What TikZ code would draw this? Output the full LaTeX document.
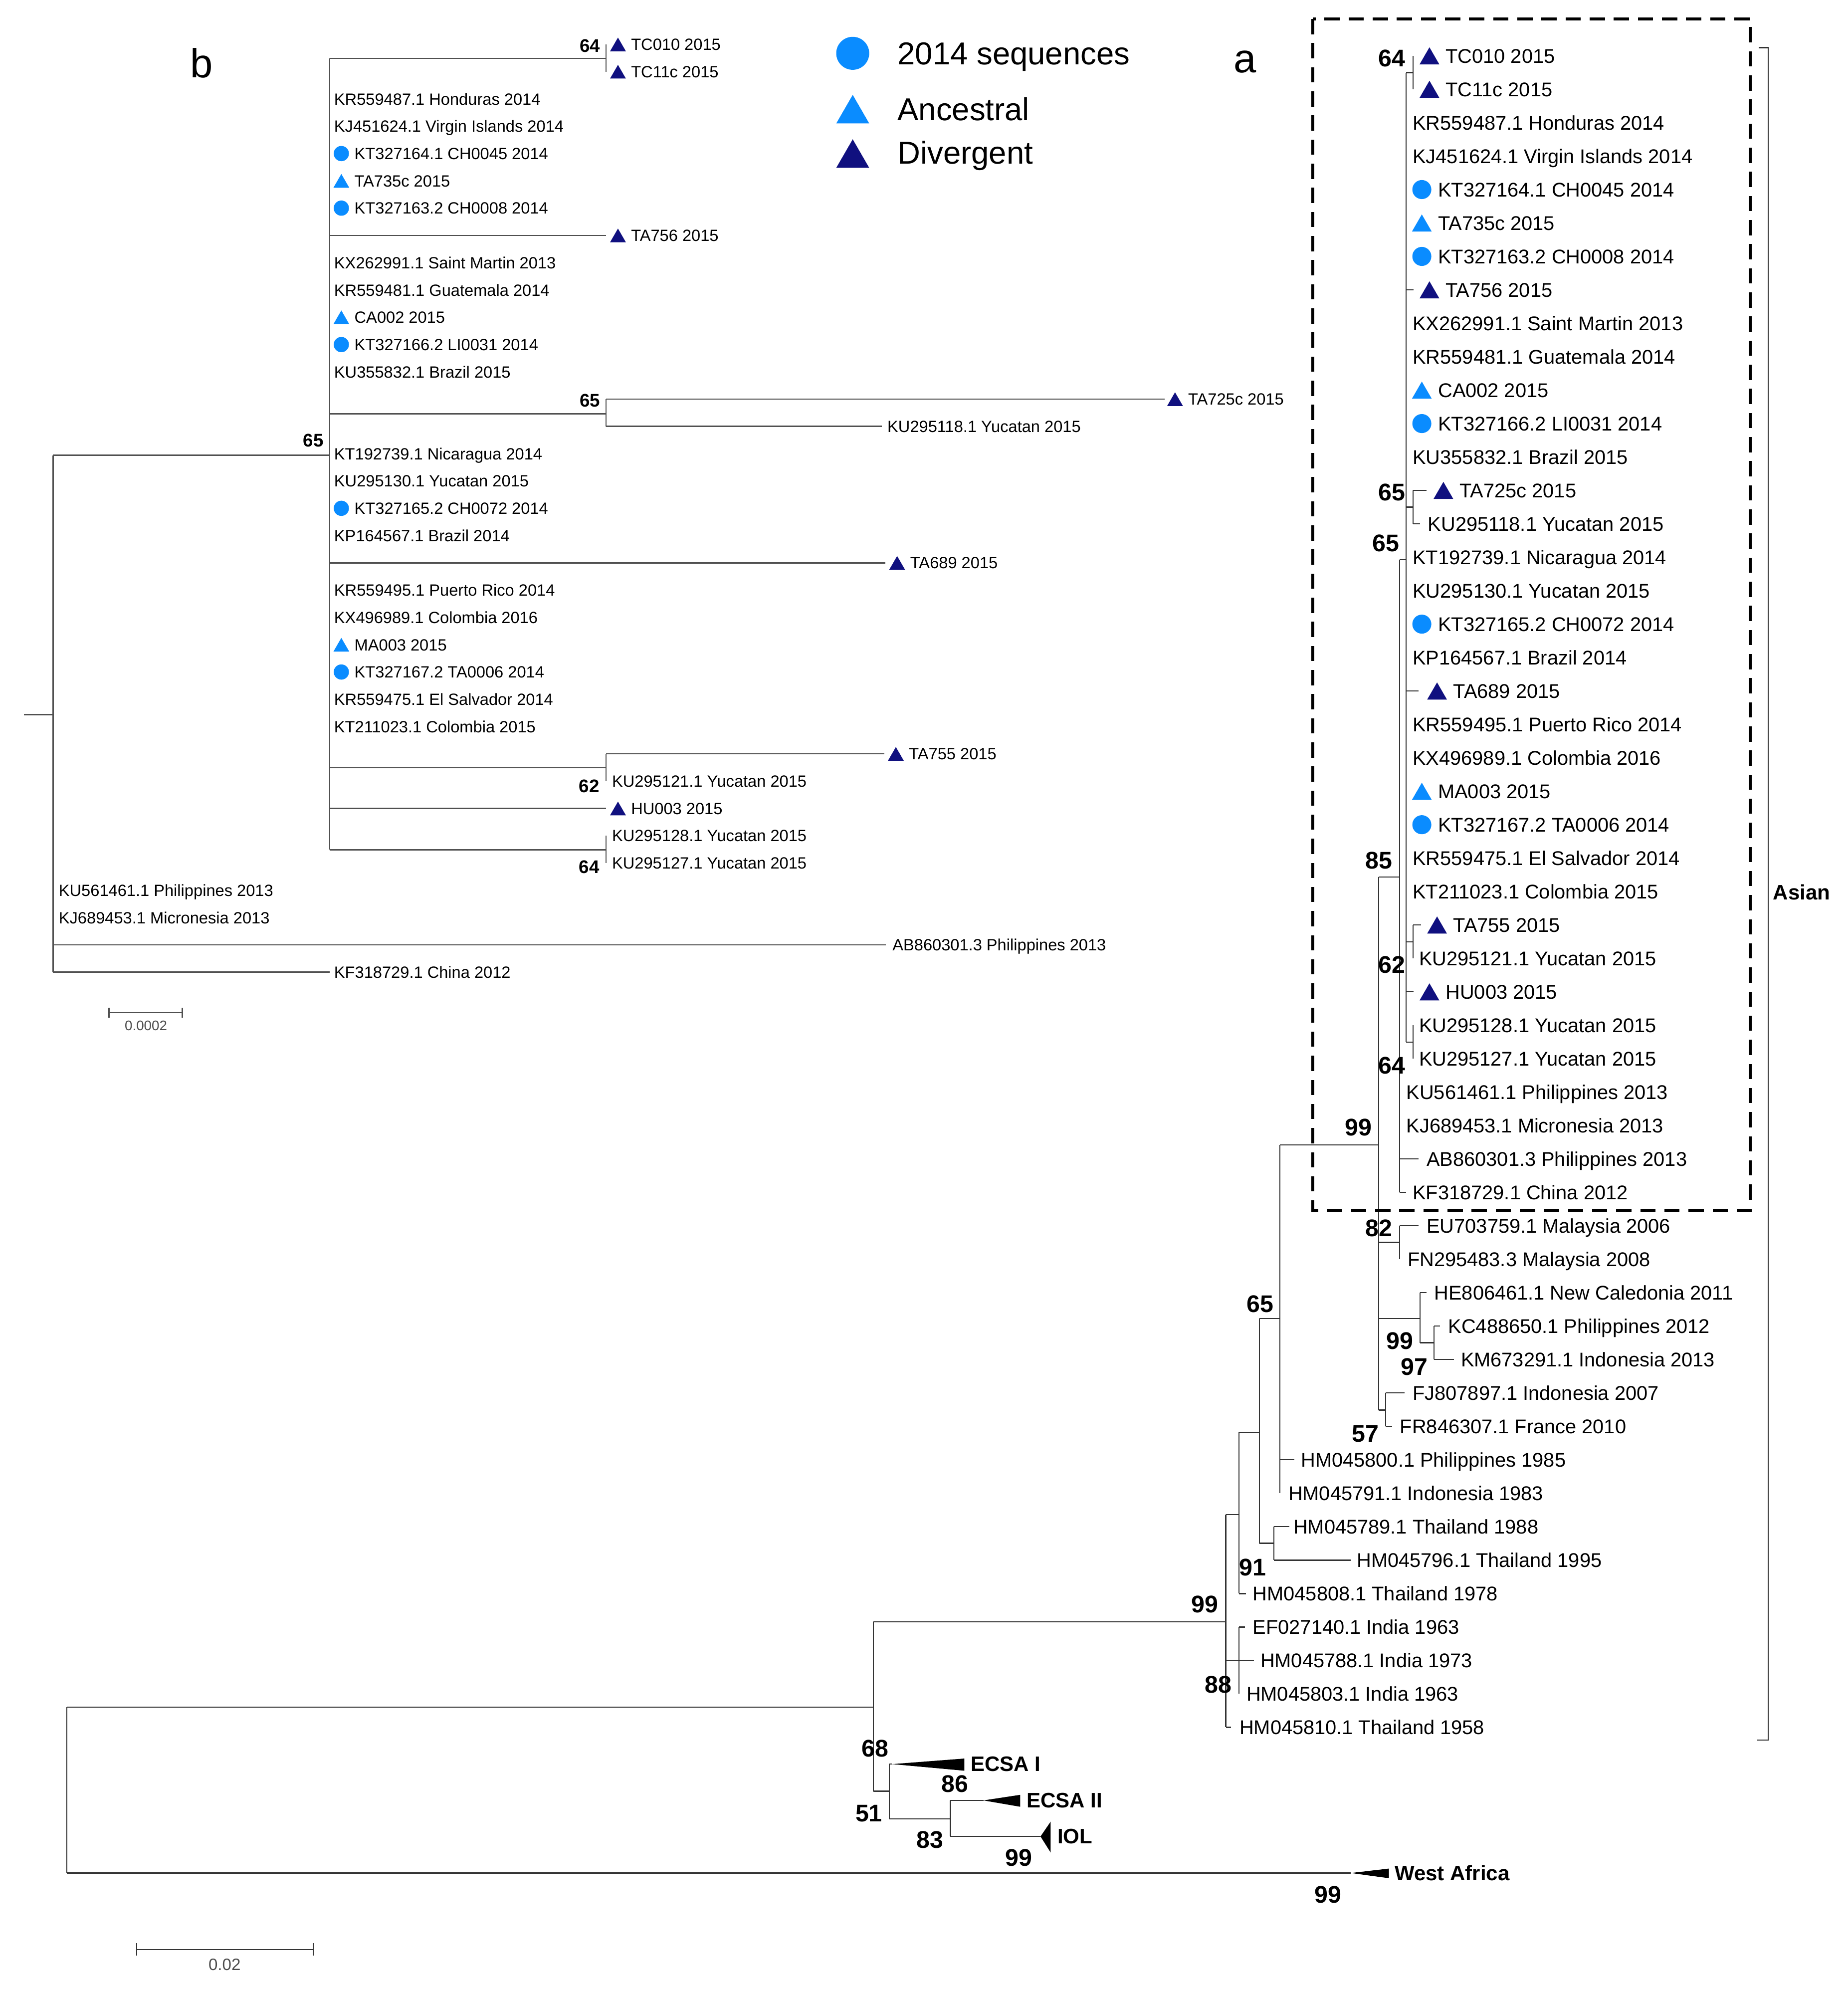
\documentclass[tikz,border=0pt]{standalone}
\usepackage{fontspec}
\setmainfont{Liberation Sans}
\usetikzlibrary{shapes.geometric, calc}
\definecolor{SeqBlue}{HTML}{0A8CFF}
\definecolor{DivNavy}{HTML}{10107F}
\definecolor{TreeGray}{HTML}{333333}
\definecolor{InsetGray}{HTML}{505050}
\tikzset{
    branch/.style={
        draw=TreeGray,
        line width=0.5pt
    },
    insetbranch/.style={
        draw=InsetGray,
        line width=0.6pt
    },
    leafa/.style={
        anchor=base west,
        inner sep=0pt,
        font=\fontsize{8.9}{10}\selectfont
    },
    leafb/.style={
        anchor=base west,
        inner sep=0pt,
        font=\fontsize{7.3}{8}\selectfont
    },
    boota/.style={
        inner sep=0pt,
        font=\fontsize{10.8}{12}\selectfont\bfseries
    },
    bootb/.style={
        inner sep=0pt,
        font=\fontsize{8.2}{9}\selectfont\bfseries
    },
    clade/.style={
        anchor=west,
        inner sep=0pt,
        font=\fontsize{9.4}{11}\selectfont\bfseries
    },
    keytext/.style={
        anchor=base west,
        inner sep=0pt,
        font=\fontsize{14.2}{16}\selectfont
    },
    panel/.style={
        anchor=base,
        inner sep=0pt,
        font=\fontsize{18.2}{20}\selectfont
    },
    scalelabel/.style={
        inner sep=0pt,
        text=black!70,
        font=\fontsize{#1}{#1}\selectfont
    },
    seqdot/.style={
        circle,
        fill=SeqBlue,
        inner sep=0pt,
        minimum size=#1
    },
    trimark/.style={
        regular polygon,
        regular polygon sides=3,
        inner sep=0pt,
        minimum size=1.2*#1,
        yshift=-0.15*#1
    },
    ancmark/.style={trimark=#1, fill=SeqBlue},
    divmark/.style={trimark=#1, fill=DivNavy},
    collapsed/.style={fill=black},
    dashbox/.style={
        draw=black,
        line width=1.4pt,
        dash pattern=on 0.24cm off 0.14cm
    }
}

\begin{document}
\begin{tikzpicture}[x=0.02cm, y=-0.02cm]
    \useasboundingbox (0,0) rectangle (1456,1568);

    % Panel letters and legend
    \node[panel] (pb) at (159,61) {b};
    \node[panel] (pa) at (981,57) {a};
    \node[seqdot=0.52cm] (key1) at (672,42) {};
    \node[ancmark=0.5cm] (key2) at (672,86) {};
    \node[divmark=0.5cm] (key3) at (672,121) {};
    \node[keytext] (key1t) at (707,51) {2014 sequences};
    \node[keytext] (key2t) at (707,95) {Ancestral};
    \node[keytext] (key3t) at (707,129) {Divergent};

    % Tree a: leaves
    \foreach \row/\px/\bx/\tx/\txt in {
        1/1113.5/1113.5/1139/TC010 2015,
        2/1113.5/1113.5/1139/TC11c 2015,
        3/1108/1108/1113/KR559487.1 Honduras 2014,
        4/1108/1108/1113/KJ451624.1 Virgin Islands 2014,
        5/1108/1108/1133/KT327164.1 CH0045 2014,
        6/1108/1108/1133/TA735c 2015,
        7/1108/1108/1133/KT327163.2 CH0008 2014,
        8/1108/1114/1139/TA756 2015,
        9/1108/1108/1113/KX262991.1 Saint Martin 2013,
        10/1108/1108/1113/KR559481.1 Guatemala 2014,
        11/1108/1108/1133/CA002 2015,
        12/1108/1108/1133/KT327166.2 LI0031 2014,
        13/1108/1108/1113/KU355832.1 Brazil 2015,
        14/1113.5/1124/1150/TA725c 2015,
        15/1113.5/1119/1125/KU295118.1 Yucatan 2015,
        16/1108/1108/1113/KT192739.1 Nicaragua 2014,
        17/1108/1108/1113/KU295130.1 Yucatan 2015,
        18/1108/1108/1133/KT327165.2 CH0072 2014,
        19/1108/1108/1113/KP164567.1 Brazil 2014,
        20/1108/1118/1145/TA689 2015,
        21/1108/1108/1113/KR559495.1 Puerto Rico 2014,
        22/1108/1108/1113/KX496989.1 Colombia 2016,
        23/1108/1108/1133/MA003 2015,
        24/1108/1108/1133/KT327167.2 TA0006 2014,
        25/1108/1108/1113/KR559475.1 El Salvador 2014,
        26/1108/1108/1113/KT211023.1 Colombia 2015,
        27/1113.5/1120/1145/TA755 2015,
        28/1113.5/1113.5/1118/KU295121.1 Yucatan 2015,
        29/1108/1114/1139/HU003 2015,
        30/1113.5/1113.5/1118/KU295128.1 Yucatan 2015,
        31/1113.5/1113.5/1118/KU295127.1 Yucatan 2015,
        32/1103/1103/1108/KU561461.1 Philippines 2013,
        33/1103/1103/1108/KJ689453.1 Micronesia 2013,
        34/1103/1118/1124/AB860301.3 Philippines 2013,
        35/1103/1108/1113/KF318729.1 China 2012,
        36/1103/1118/1124/EU703759.1 Malaysia 2006,
        37/1103/1103/1109/FN295483.3 Malaysia 2008,
        38/1119/1124/1130/HE806461.1 New Caledonia 2011,
        39/1130/1135/1141/KC488650.1 Philippines 2012,
        40/1130/1146/1151/KM673291.1 Indonesia 2013,
        41/1092/1107/1113/FJ807897.1 Indonesia 2007,
        42/1092/1097/1103/FR846307.1 France 2010,
        43/1008.5/1020/1025/HM045800.1 Philippines 1985,
        44/1008.5/1008.5/1015/HM045791.1 Indonesia 1983,
        45/1004/1016/1019/HM045789.1 Thailand 1988,
        46/1004/1064.5/1069/HM045796.1 Thailand 1995,
        47/976.5/982/987/HM045808.1 Thailand 1978,
        48/976.5/981/987/EF027140.1 India 1963,
        49/976.5/988/993/HM045788.1 India 1973,
        50/976.5/976.5/982/HM045803.1 India 1963,
        51/966/970/976.5/HM045810.1 Thailand 1958
    }{
        \pgfmathsetmacro{\yy}{44+26.34*(\row-1)}
        \coordinate (ra\row) at (\px,\yy);
        \coordinate (ta\row) at (\bx,\yy);
        \draw[branch] (ra\row) -- (ta\row);
        \node[leafa] (la\row) at (\tx,\yy+5.6) {\txt};
    }

    % Tree a: markers
    \foreach \row in {5,7,12,18,24}
        \node[seqdot=0.3cm] (ma\row) at ($(la\row.west |- ra\row)+(-12.5,0)$) {};
    \foreach \row in {6,11,23}
        \node[ancmark=0.3cm] (ma\row) at ($(la\row.west |- ra\row)+(-12.5,0)$) {};
    \foreach \row in {1,2,8,14,20,27,29}
        \node[divmark=0.3cm] (ma\row) at ($(la\row.west |- ra\row)+(-12.5,0)$) {};

    % Tree a: internal nodes
    \coordinate (a64t) at (1113.5,57.2);
    \coordinate (a65t) at (1113.5,399.6);
    \coordinate (a62) at (1113.5,742);
    \coordinate (a64b) at (1113.5,821);
    \coordinate (a65p) at (1108,441);
    \coordinate (a85) at (1103,691);
    \coordinate (a82) at (1103,979);
    \coordinate (a99c) at (1119,1039);
    \coordinate (a97) at (1130,1058);
    \coordinate (a57) at (1092,1111);
    \coordinate (a99) at (1086.5,902);
    \coordinate (a65c) at (1008.5,1039);
    \coordinate (aThai) at (1004,1216);
    \coordinate (a65b) at (992.5,1128.6);
    \coordinate (a91) at (976.5,1193.5);
    \coordinate (a88) at (976.5,1308.3);
    \coordinate (aAsia) at (966,1278);
    \coordinate (a68) at (688.4,1345);
    \coordinate (a51) at (701,1411.3);
    \coordinate (a83) at (749,1433.3);
    \coordinate (aRoot) at (52.6,1410);
    \coordinate (ecsa1) at (703,1390);
    \coordinate (ecsa2) at (775,1418.6);
    \coordinate (iol) at (820,1447);
    \coordinate (wafr) at (1064.6,1475.8);

    % Tree a: verticals
    \foreach \n/\top/\bot in {a64t/ra1/ra2, a65t/ra14/ra15, a62/ra27/ra28, a64b/ra30/ra31,
        a65p/a64t/a64b, a85/a65p/ra35, a82/ra36/ra37, a99c/ra38/a97, a97/ra39/ra40,
        a57/ra41/ra42, a99/a85/a57, a65c/a99/ra44, aThai/ra45/ra46, a65b/a65c/aThai,
        a91/a65b/ra47, a88/ra48/ra50, aAsia/a91/ra51, a68/aAsia/a51, a51/ecsa1/a83,
        a83/ecsa2/iol, aRoot/a68/wafr}
        \draw[branch] (\n |- \top) -- (\n |- \bot);

    % Tree a: horizontals
    \foreach \p/\c in {a65p/a64t, a65p/a65t, a65p/a62, a65p/a64b, a85/a65p, a99/a85,
        a99/a82, a99/a99c, a99/a57, a99c/a97, a65c/a99, a65b/a65c, a65b/aThai,
        a91/a65b, aAsia/a91, aAsia/a88, a68/aAsia, a68/a51, a51/a83, aRoot/a68,
        a51/ecsa1, a83/ecsa2, a83/iol, aRoot/wafr}
        \draw[branch] (\p |- \c) -- (\c);

    % Collapsed clades
    \fill[collapsed] (ecsa1) -- ++(57,-4.4) -- ++(0,9.6) -- cycle;
    \fill[collapsed] (ecsa2) -- ++(29,-4.4) -- ++(0,9.4) -- cycle;
    \fill[collapsed] (iol) -- ++(8,-11.7) -- ++(0,24.4) -- cycle;
    \fill[collapsed] (wafr) -- ++(30,-3.5) -- ++(0,7.6) -- cycle;
    \node[clade] (ecsa1t) at (764.6,1390) {ECSA I};
    \node[clade] (ecsa2t) at (808.6,1418.6) {ECSA II};
    \node[clade] (iolt) at (833,1447) {IOL};
    \node[clade] (wafrt) at (1098.8,1475.8) {West Africa};

    % Tree a: bootstrap values
    \foreach \lx/\ly/\v [count=\i] in {1097/46/64, 1097/388/65, 1092/428/65, 1086.5/678/85,
        1097/760/62, 1097/839.5/64, 1070.6/888.4/99, 1086.7/967.8/82, 1103.2/1056.5/99,
        1114.5/1077/97, 1076.1/1129.7/57, 993.1/1027.3/65, 987.1/1235/91, 949.5/1264.2/99,
        960/1327.4/88, 689.6/1377.5/68, 752.5/1405.6/86, 684.7/1428.7/51, 733/1449.8/83,
        802.7/1463.8/99, 1046.6/1492.9/99}
        \node[boota] (ba\i) at (\lx,\ly) {\v};

    % Box and Asian bracket
    \draw[dashbox] (1034.5,15) rectangle (1379.3,953.6);
    \coordinate (asiantop) at (1386,37.5);
    \coordinate (asianbot) at (1385,1371);
    \draw[branch] (asiantop) -- (1393.5,37.5) -- (1393.5,1371) -- (asianbot);
    \node[clade] (asian) at (1397,703) {Asian};

    % Scale bar a
    \coordinate (sa1) at (107.6,1536);
    \coordinate (sa2) at (246.8,1536);
    \draw[branch] (sa1) -- (sa2);
    \draw[branch] (sa1) ++(0,-5) -- ++(0,10);
    \draw[branch] (sa2) ++(0,-5) -- ++(0,10);
    \node[scalelabel=7.4] (sa) at (177,1548) {0.02};

    % Tree b: leaves
    \foreach \row/\px/\bx/\tx/\txt in {
        1/477.6/477.6/497/TC010 2015,
        2/477.6/477.6/497/TC11c 2015,
        3/259.8/259.8/263/KR559487.1 Honduras 2014,
        4/259.8/259.8/263/KJ451624.1 Virgin Islands 2014,
        5/259.8/259.8/279/KT327164.1 CH0045 2014,
        6/259.8/259.8/279/TA735c 2015,
        7/259.8/259.8/279/KT327163.2 CH0008 2014,
        8/259.8/477.6/497/TA756 2015,
        9/259.8/259.8/263/KX262991.1 Saint Martin 2013,
        10/259.8/259.8/263/KR559481.1 Guatemala 2014,
        11/259.8/259.8/279/CA002 2015,
        12/259.8/259.8/279/KT327166.2 LI0031 2014,
        13/259.8/259.8/263/KU355832.1 Brazil 2015,
        14/477.6/918/936/TA725c 2015,
        15/477.6/695/699/KU295118.1 Yucatan 2015,
        16/259.8/259.8/263/KT192739.1 Nicaragua 2014,
        17/259.8/259.8/263/KU295130.1 Yucatan 2015,
        18/259.8/259.8/279/KT327165.2 CH0072 2014,
        19/259.8/259.8/263/KP164567.1 Brazil 2014,
        20/259.8/697.6/717/TA689 2015,
        21/259.8/259.8/263/KR559495.1 Puerto Rico 2014,
        22/259.8/259.8/263/KX496989.1 Colombia 2016,
        23/259.8/259.8/279/MA003 2015,
        24/259.8/259.8/279/KT327167.2 TA0006 2014,
        25/259.8/259.8/263/KR559475.1 El Salvador 2014,
        26/259.8/259.8/263/KT211023.1 Colombia 2015,
        27/477.6/697/716/TA755 2015,
        28/477.6/477.6/482/KU295121.1 Yucatan 2015,
        29/259.8/477.6/497/HU003 2015,
        30/477.6/477.6/482/KU295128.1 Yucatan 2015,
        31/477.6/477.6/482/KU295127.1 Yucatan 2015,
        32/41.8/41.8/46/KU561461.1 Philippines 2013,
        33/41.8/41.8/46/KJ689453.1 Micronesia 2013,
        34/41.8/698/703/AB860301.3 Philippines 2013,
        35/41.8/259.8/263/KF318729.1 China 2012
    }{
        \pgfmathsetmacro{\yy}{35+21.5*(\row-1)}
        \coordinate (rb\row) at (\px,\yy);
        \coordinate (tb\row) at (\bx,\yy);
        \draw[insetbranch] (rb\row) -- (tb\row);
        \node[leafb] (lb\row) at (\tx,\yy+4.6) {\txt};
    }

    % Tree b: markers
    \foreach \row in {5,7,12,18,24}
        \node[seqdot=0.24cm] (mb\row) at ($(lb\row.west |- rb\row)+(-10,0)$) {};
    \foreach \row in {6,11,23}
        \node[ancmark=0.24cm] (mb\row) at ($(lb\row.west |- rb\row)+(-10,0)$) {};
    \foreach \row in {1,2,8,14,20,27,29}
        \node[divmark=0.24cm] (mb\row) at ($(lb\row.west |- rb\row)+(-10,0)$) {};

    % Tree b: internal nodes
    \coordinate (b64t) at (477.6,46);
    \coordinate (b65c) at (477.6,326);
    \coordinate (b62) at (477.6,605);
    \coordinate (b64b) at (477.6,669.5);
    \coordinate (b65) at (259.8,358.8);
    \coordinate (bRoot) at (41.8,563);
    \coordinate (bStub) at (19,563);
    \foreach \n/\top/\bot in {b64t/rb1/rb2, b65c/rb14/rb15, b62/rb27/rb28, b64b/rb30/rb31,
        b65/b64t/b64b, bRoot/b65/rb35}
        \draw[insetbranch] (\n |- \top) -- (\n |- \bot);
    \foreach \p/\c in {b65/b64t, b65/b65c, b65/b62, b65/b64b, bRoot/b65, bStub/bRoot}
        \draw[insetbranch] (\p |- \c) -- (\c);

    % Tree b: bootstrap values
    \foreach \lx/\ly/\v [count=\i] in {465/36/64, 465/315.6/65, 246.9/347/65,
        464.3/619.4/62, 464.3/683/64}
        \node[bootb] (bb\i) at (\lx,\ly) {\v};

    % Scale bar b
    \coordinate (sb1) at (85.9,798);
    \coordinate (sb2) at (143.7,798);
    \draw[insetbranch] (sb1) -- (sb2);
    \draw[insetbranch] (sb1) ++(0,-4) -- ++(0,8);
    \draw[insetbranch] (sb2) ++(0,-4) -- ++(0,8);
    \node[scalelabel=6.2] (sb) at (115,808) {0.0002};
\end{tikzpicture}
\end{document}
